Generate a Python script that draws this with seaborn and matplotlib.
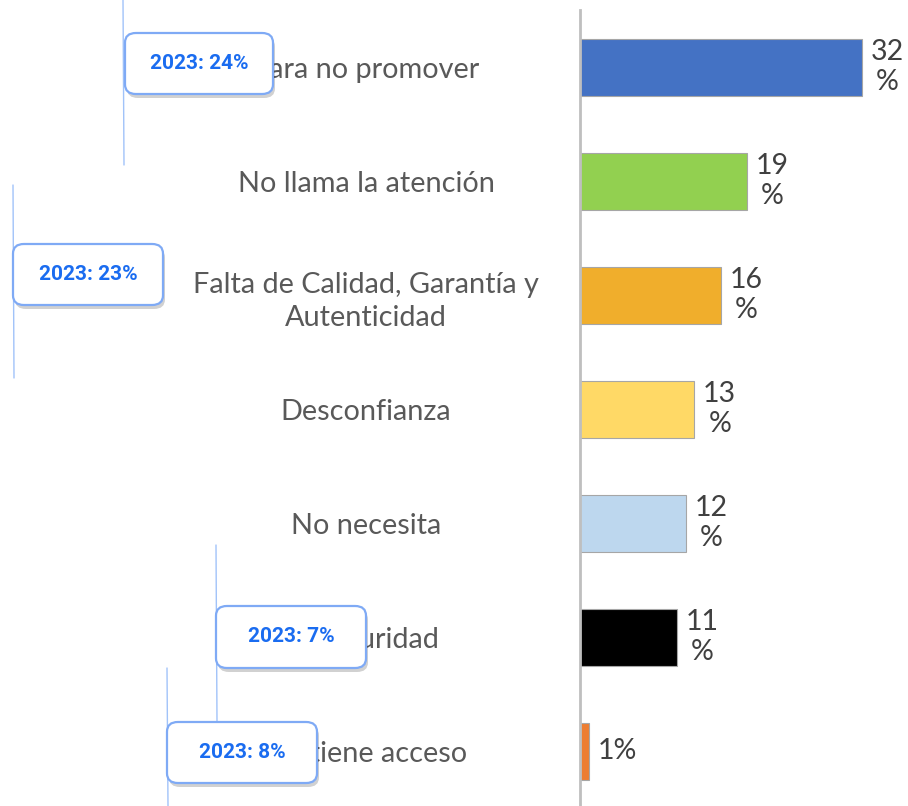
import matplotlib
matplotlib.use("Agg")
import matplotlib.pyplot as plt
import seaborn as sns
import pandas as pd
from matplotlib.patches import FancyBboxPatch
from matplotlib.lines import Line2D

# data
categories = ["Para no promover", "No llama la atención",
              "Falta de Calidad, Garantía y\nAutenticidad", "Desconfianza",
              "No necesita", "Inseguridad", "No tiene acceso"]
values = [32, 19, 16, 13, 12, 11, 1]
colors = ["#4472C4", "#92D050", "#F0AE2C", "#FFD966", "#BDD7EE", "#000000", "#ED7D31"]
prev_2023 = [24, None, 23, None, None, 7, 8]

# callout box layout in pixels (left, top, width, height) and guide lines (x, y0, y1)
box_px = {0: (125, 33, 148, 61), 2: (13, 244, 150, 61), 5: (216, 606, 150, 62), 6: (167, 722, 150, 61)}
guide_px = {0: (123, 0, 165), 2: (13, 185, 378), 5: (216, 545, 722), 6: (167, 668, 806)}

W, H = 908, 806
sns.set_theme(style="white")
plt.rcParams["font.family"] = ["Lato", "DejaVu Sans"]

fig = plt.figure(figsize=(W / 100, H / 100), dpi=100)
ax = fig.add_axes([580 / W, 0, 1 - 580 / W, 1 - 10 / H])

df = pd.DataFrame({"cat": categories, "val": values})
sns.barplot(data=df, x="val", y="cat", hue="cat", palette=colors, legend=False, saturation=1,
            width=0.5, edgecolor="#A6A6A6", linewidth=0.8, ax=ax)

ax.set_xlim(0, 328 / 8.8)
ax.set_ylim(6.48, -0.5)
ax.set_xlabel("")
ax.set_ylabel("")
ax.set_xticks([])
for s in ["top", "right", "bottom"]:
    ax.spines[s].set_visible(False)
ax.spines["left"].set_color("#BFBFBF")
ax.spines["left"].set_linewidth(2)

ax.set_yticks(range(len(categories)))
ax.set_yticklabels(categories, fontsize=20.8, color="#595959", ha="center", linespacing=1.35)
ax.tick_params(axis="y", length=0, pad=214 * 72 / 100)

for i, v in enumerate(values):
    txt = f"{v}\n%" if v >= 10 else f"{v}%"
    ax.text(v + 1.0, i, txt, ha="left", va="center", multialignment="center",
            fontsize=20.5, color="#404040", linespacing=1.2)


def fx(px):
    return px / W


def fy(py):
    return 1 - py / H


for i, (x, y0, y1) in guide_px.items():
    fig.add_artist(Line2D([fx(x), fx(x + 1)], [fy(y0), fy(y1)], transform=fig.transFigure,
                          color="#8AB4F8", lw=1.0, alpha=0.8, zorder=4))

for i, (l, t, w, h) in box_px.items():
    shadow = FancyBboxPatch((fx(l + 2), fy(t + h + 4)), fx(w), h / H,
                            boxstyle="round,pad=0,rounding_size=0.012",
                            transform=fig.transFigure, facecolor="#000000", alpha=0.18,
                            edgecolor="none", zorder=5)
    fig.add_artist(shadow)
    box = FancyBboxPatch((fx(l), fy(t + h)), fx(w), h / H,
                         boxstyle="round,pad=0,rounding_size=0.012",
                         transform=fig.transFigure, facecolor="white",
                         edgecolor="#7FAAF5", linewidth=1.6, zorder=6)
    fig.add_artist(box)
    fig.text(fx(l + w / 2), fy(t + h / 2), f"2023: {prev_2023[i]}%", ha="center", va="center",
             fontsize=15, fontweight="bold", color="#1A6CF0", family=["Roboto", "DejaVu Sans"],
             zorder=7)

fig.savefig("out.png", dpi=100)
